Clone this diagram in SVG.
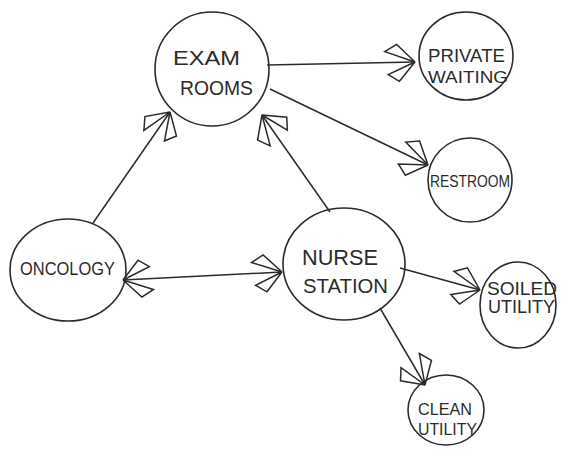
<svg xmlns="http://www.w3.org/2000/svg" width="568" height="456" viewBox="0 0 568 456">
<style>
.n{fill:none;stroke:#2b2b2b;stroke-width:1.6}
.t{font-family:"Liberation Sans",Arial,sans-serif;fill:#2b2b2b;font-weight:normal}
.c path{fill:none;stroke:#2b2b2b;stroke-width:1.5}
</style>
<defs>
<marker id="ah" markerUnits="userSpaceOnUse" orient="auto-start-reverse" refX="0" refY="0" viewBox="-34 -22 38 44" markerWidth="38" markerHeight="44" overflow="visible">
<path d="M0,0 L-30,-11 L-18,-18 Z M0,0 L-27,12 L-16,19 Z" fill="#fff" stroke="#2b2b2b" stroke-width="1.5" stroke-linejoin="miter"/>
</marker>
</defs>
<rect width="568" height="456" fill="#fff"/>
<g class="c" id="connectors">
<path d="M267,65 L415,62" marker-end="url(#ah)"/>
<path d="M270,89 L428,165" marker-end="url(#ah)"/>
<path d="M93,223 L170,112" marker-end="url(#ah)"/>
<path d="M330,212 L262,115" marker-end="url(#ah)"/>
<path d="M123,280 L282,272" marker-start="url(#ah)" marker-end="url(#ah)"/>
<path d="M400,268 L480,290" marker-end="url(#ah)"/>
<path d="M380,308 L425,385" marker-end="url(#ah)"/>
</g>
<g id="exam">
<ellipse class="n" cx="212" cy="69" rx="57" ry="57"/>
<text class="t" x="173" y="65" font-size="21" textLength="67" lengthAdjust="spacingAndGlyphs">EXAM</text>
<text class="t" x="180" y="95" font-size="21" textLength="73" lengthAdjust="spacingAndGlyphs">ROOMS</text>
</g>
<g id="private">
<ellipse class="n" cx="466" cy="56" rx="47" ry="44"/>
<text class="t" x="428" y="62" font-size="18" textLength="77" lengthAdjust="spacingAndGlyphs">PRIVATE</text>
<text class="t" x="428" y="83" font-size="16" textLength="80" lengthAdjust="spacingAndGlyphs">WAITING</text>
</g>
<g id="restroom">
<ellipse class="n" cx="470" cy="180" rx="42" ry="42"/>
<text class="t" x="430" y="187" font-size="17" textLength="80" lengthAdjust="spacingAndGlyphs">RESTROOM</text>
</g>
<g id="oncology">
<ellipse class="n" cx="68" cy="270" rx="58" ry="51"/>
<text class="t" x="20" y="275" font-size="19" textLength="95" lengthAdjust="spacingAndGlyphs">ONCOLOGY</text>
</g>
<g id="nurse">
<ellipse class="n" cx="344" cy="264" rx="61" ry="56"/>
<text class="t" x="302" y="265" font-size="22" textLength="76" lengthAdjust="spacingAndGlyphs">NURSE</text>
<text class="t" x="303" y="293" font-size="21" textLength="85" lengthAdjust="spacingAndGlyphs">STATION</text>
</g>
<g id="soiled">
<ellipse class="n" cx="518" cy="305" rx="38" ry="43"/>
<text class="t" x="487" y="295" font-size="18" textLength="70" lengthAdjust="spacingAndGlyphs">SOILED</text>
<text class="t" x="488" y="313" font-size="18" textLength="67" lengthAdjust="spacingAndGlyphs">UTILITY</text>
</g>
<g id="clean">
<ellipse class="n" cx="446" cy="410" rx="38" ry="35"/>
<text class="t" x="418" y="415" font-size="17" textLength="54" lengthAdjust="spacingAndGlyphs">CLEAN</text>
<text class="t" x="418" y="435" font-size="17" textLength="59" lengthAdjust="spacingAndGlyphs">UTILITY</text>
</g>
</svg>
